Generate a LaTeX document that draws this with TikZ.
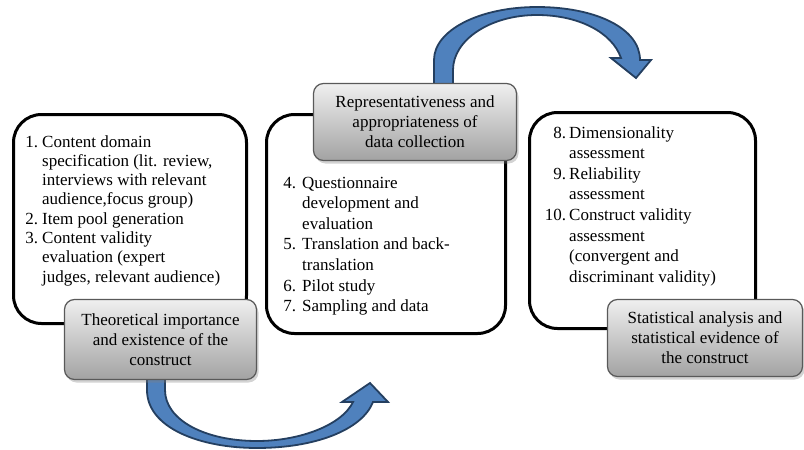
\documentclass[tikz,border=0pt]{standalone}
\usepackage{fontspec}
\setmainfont{Liberation Serif}
\usetikzlibrary{shadows}
\definecolor{arrfill}{HTML}{4F81BD}
\definecolor{arrline}{HTML}{243F60}
\definecolor{lblline}{HTML}{595959}
\definecolor{lbltop}{HTML}{EFEFEF}
\definecolor{lblbot}{HTML}{A3A3A3}
\newcommand\listfontA{\fontsize{17}{19.3}\selectfont}
\newcommand\listfontB{\fontsize{17}{20.6}\selectfont}
\newcommand\labelfont{\fontsize{17}{20}\selectfont}
\begin{document}
\begin{tikzpicture}[x=1pt,y=-1pt,
  whitebox/.style={draw=black, line width=3pt, rounded corners=28pt, fill=white, inner sep=0pt},
  graylabel/.style={draw=lblline, line width=1.2pt, rounded corners=10pt, top color=lbltop, bottom color=lblbot, align=center, font=\labelfont, inner sep=2pt,
    drop shadow={shadow xshift=2pt, shadow yshift=-3pt, opacity=0.35}},
  listtext/.style={anchor=base west, inner sep=0pt},
  blockarrow/.style={fill=arrfill, draw=arrline, line width=1.8pt, line join=miter}]
\useasboundingbox (0,0) rectangle (804,450);

% white boxes
\node[whitebox, minimum width=233pt, minimum height=209pt] (b1) at (130,219) {};
\node[whitebox, minimum width=239pt, minimum height=219pt] (b2) at (386,224) {};
\node[whitebox, minimum width=226pt, minimum height=216pt] (b3) at (642.5,220.5) {};

% block arrows
\draw[blockarrow] (434,92) -- (434,60) .. controls (434,30) and (480,7) .. (537,7)
  .. controls (595,7) and (640,28) .. (640,60) -- (651,60) -- (636,78) -- (611,58) -- (621,58)
  .. controls (612,32) and (578,15) .. (537,15) .. controls (490,15) and (453,40) .. (453,70) -- (453,92) -- cycle;
\draw[blockarrow] (147,372) -- (147,390) .. controls (147,428) and (200,448) .. (257,448)
  .. controls (315,448) and (362,430) .. (373,402) -- (388,402) -- (370,383) -- (342,402) -- (353,402)
  .. controls (342,425) and (300,441) .. (257,441) .. controls (205,441) and (165,420) .. (165,390) -- (165,372) -- cycle;

% list texts
\node[listtext] (t1) at (42,147) {\listfontA\begin{tabular}[t]{@{}l@{}}
\llap{1.\hspace{4pt}}Content domain\\
specification (lit. review,\\
interviews with relevant\\
audience,focus group)\\
\llap{2.\hspace{4pt}}Item pool generation\\
\llap{3.\hspace{4pt}}Content validity\\
evaluation (expert\\
judges, relevant audience)\end{tabular}};

\node[listtext] (t2) at (302,188) {\listfontB\begin{tabular}[t]{@{}l@{}}
\llap{4.\hspace{6pt}}Questionnaire\\
development and\\
evaluation\\
\llap{5.\hspace{6pt}}Translation and back-\\
translation\\
\llap{6.\hspace{6pt}}Pilot study\\
\llap{7.\hspace{6pt}}Sampling and data\end{tabular}};

\node[listtext] (t3) at (569,138) {\listfontB\begin{tabular}[t]{@{}l@{}}
\llap{8.\hspace{3pt}}Dimensionality\\
assessment\\
\llap{9.\hspace{3pt}}Reliability\\
assessment\\
\llap{10.\hspace{3pt}}Construct validity\\
assessment\\
(convergent and\\
discriminant validity)\end{tabular}};

% gray labels
\node[graylabel, minimum width=192pt, minimum height=80pt] (l1) at (160.5,339.5)
  {Theoretical importance\\and existence of the\\construct};
\node[graylabel, minimum width=203pt, minimum height=77pt] (l2) at (415,122)
  {Representativeness and\\appropriateness of\\data collection};
\node[graylabel, minimum width=195pt, minimum height=77pt] (l3) at (705,338)
  {Statistical analysis and\\statistical evidence of\\the construct};
\end{tikzpicture}
\end{document}
